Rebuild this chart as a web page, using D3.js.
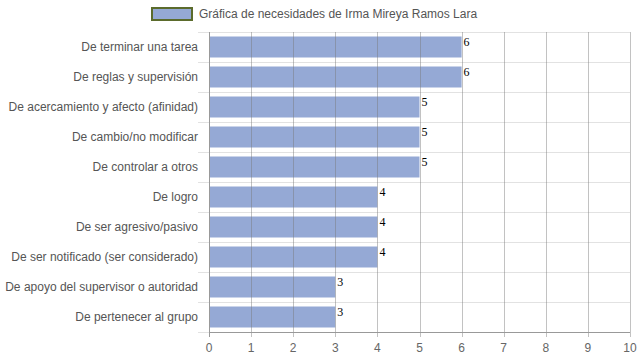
<!DOCTYPE html>
<meta charset="utf-8">
<style>
    body {
        margin: 0;
        overflow: hidden;
        background: #fff;
    }

    .val {
        font-family: "Liberation Serif", "DejaVu Serif", serif;
    }
</style>
<div id="container"></div>
<script src="https://cdn.jsdelivr.net/npm/d3@7"></script>
<script>
    // data
    const categories = [
        "De terminar una tarea",
        "De reglas y supervisión",
        "De acercamiento y afecto (afinidad)",
        "De cambio/no modificar",
        "De controlar a otros",
        "De logro",
        "De ser agresivo/pasivo",
        "De ser notificado (ser considerado)",
        "De apoyo del supervisor o autoridad",
        "De pertenecer al grupo"
    ];
    const values = [6, 6, 5, 5, 5, 4, 4, 4, 3, 3];
    const xTicks = [0, 1, 2, 3, 4, 5, 6, 7, 8, 9, 10];
    const seriesName = "Gráfica de necesidades de Irma Mireya Ramos Lara";

    const width = 639, height = 360;
    const margin = {top: 32, right: 9, bottom: 28, left: 209};

    const svg = d3.select("#container").append("svg")
        .attr("width", width)
        .attr("height", height)
        .style("font-family", "Arial, 'Liberation Sans', sans-serif");

    const x = d3.scaleLinear().domain([0, 10]).range([margin.left, width - margin.right]);
    const y = d3.scaleBand().domain(categories).range([margin.top, height - margin.bottom]).paddingInner(0.3).paddingOuter(0.15);

    // horizontal separators between categories
    const step = y.step();
    const bounds = d3.range(categories.length + 1).map(i => margin.top + i * step);
    svg.append("g").selectAll("line").data(bounds).join("line")
        .attr("x1", margin.left - 11).attr("x2", x(10))
        .attr("y1", d => Math.round(d) + 0.5).attr("y2", d => Math.round(d) + 0.5)
        .attr("stroke", "#e2e2e2");

    // bars
    svg.append("g").selectAll("rect").data(values).join("rect")
        .attr("x", x(0))
        .attr("y", (d, i) => y(categories[i]))
        .attr("width", d => x(d) - x(0))
        .attr("height", y.bandwidth())
        .attr("fill", "#95a9d5");

    // vertical grid lines drawn over the bars
    svg.append("g").selectAll("line").data(xTicks).join("line")
        .attr("x1", d => Math.round(x(d)) + 0.5).attr("x2", d => Math.round(x(d)) + 0.5)
        .attr("y1", margin.top).attr("y2", height - margin.bottom + 5)
        .attr("stroke", d => d === 0 ? "#999" : "#777")
        .attr("stroke-opacity", d => d === 0 ? 1 : 0.45);

    // bottom axis line
    svg.append("line")
        .attr("x1", x(0)).attr("x2", x(10))
        .attr("y1", height - margin.bottom + 0.5).attr("y2", height - margin.bottom + 0.5)
        .attr("stroke", "#999");

    // x tick labels
    svg.append("g").selectAll("text").data(xTicks).join("text")
        .attr("x", d => x(d))
        .attr("y", height - 8)
        .attr("text-anchor", "middle")
        .attr("font-size", 12)
        .attr("fill", "#666")
        .text(d => d);

    // category labels
    svg.append("g").selectAll("text").data(categories).join("text")
        .attr("x", margin.left - 11)
        .attr("y", d => y(d) + y.bandwidth() / 2)
        .attr("dy", "0.35em")
        .attr("text-anchor", "end")
        .attr("font-size", 12)
        .attr("fill", "#555")
        .text(d => d);

    // value labels
    svg.append("g").selectAll("text").data(values).join("text")
        .attr("class", "val")
        .attr("x", d => x(d) + 2)
        .attr("y", (d, i) => y(categories[i]) + 9)
        .attr("font-size", 12)
        .attr("fill", "#000")
        .text(d => d);

    // legend
    const legend = svg.append("g");
    legend.append("rect")
        .attr("x", 152).attr("y", 8).attr("width", 40).attr("height", 12)
        .attr("fill", "#95a9d5")
        .attr("stroke", "#5b6b2c")
        .attr("stroke-width", 2);
    legend.append("text")
        .attr("x", 199).attr("y", 14)
        .attr("dy", "0.35em")
        .attr("font-size", 12)
        .attr("fill", "#555")
        .text(seriesName);
</script>
